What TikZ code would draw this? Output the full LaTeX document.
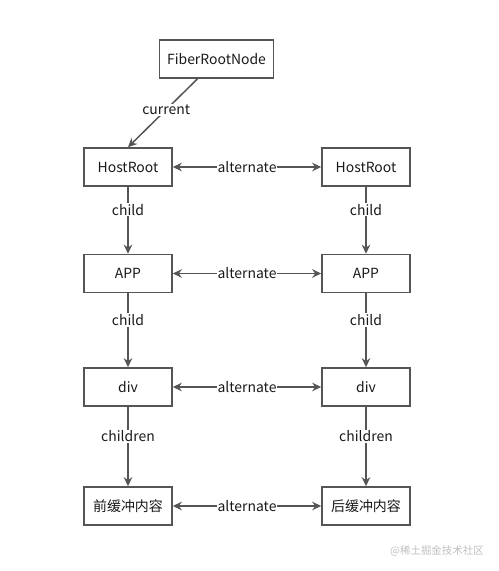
\documentclass[tikz,border=0pt]{standalone}
\usepackage{fontspec}
\setmainfont{Noto Sans CJK SC}
\usetikzlibrary{arrows.meta}
\definecolor{ln}{HTML}{555555}
\tikzset{
  box/.style={draw=ln, line width=1.6bp, minimum width=88bp, minimum height=38bp, inner sep=0pt, font=\fontsize{14}{16}\selectfont, text=black!90},
  conn/.style={draw=ln, line width=1.5bp, -{Stealth[length=9bp,width=8.5bp]}},
  biconn/.style={draw=ln, line width=1.5bp, {Stealth[length=9bp,width=8.5bp]}-{Stealth[length=9bp,width=8.5bp]}},
  lbl/.style={fill=white, inner sep=1bp, font=\fontsize{14}{16}\selectfont, text=black!90}
}
\begin{document}
\begin{tikzpicture}[x=1bp,y=-1bp]
\useasboundingbox (0,0) rectangle (499,571);
\node[box, minimum width=114bp] (fr) at (216.5,59) {FiberRootNode};
\node[box] (h1) at (128,167) {HostRoot};
\node[box] (h2) at (366,167) {HostRoot};
\node[box] (a1) at (128,273.5) {APP};
\node[box] (a2) at (366,273.5) {APP};
\node[box] (d1) at (128,387) {div};
\node[box] (d2) at (366,387) {div};
\node[box] (c1) at (128,506) {前缓冲内容};
\node[box] (c2) at (366,506) {后缓冲内容};
\draw[conn] ([xshift=-19bp]fr.south) -- node[lbl, pos=0.45] {current} (h1.north);
\draw[biconn] (h1) -- node[lbl] {alternate} (h2);
\draw[biconn] (a1) -- node[lbl] {alternate} (a2);
\draw[biconn] (d1) -- node[lbl] {alternate} (d2);
\draw[biconn] (c1) -- node[lbl] {alternate} (c2);
\draw[conn] (h1) -- node[lbl, pos=0.34] {child} (a1);
\draw[conn] (h2) -- node[lbl, pos=0.34] {child} (a2);
\draw[conn] (a1) -- node[lbl, pos=0.36] {child} (d1);
\draw[conn] (a2) -- node[lbl, pos=0.36] {child} (d2);
\draw[conn] (d1) -- node[lbl, pos=0.37] {children} (c1);
\draw[conn] (d2) -- node[lbl, pos=0.37] {children} (c2);
\node[text=black!25, font=\fontsize{10.5}{12}\selectfont, inner sep=0pt] (wm) at (437,551) {@稀土掘金技术社区};
\end{tikzpicture}
\end{document}
